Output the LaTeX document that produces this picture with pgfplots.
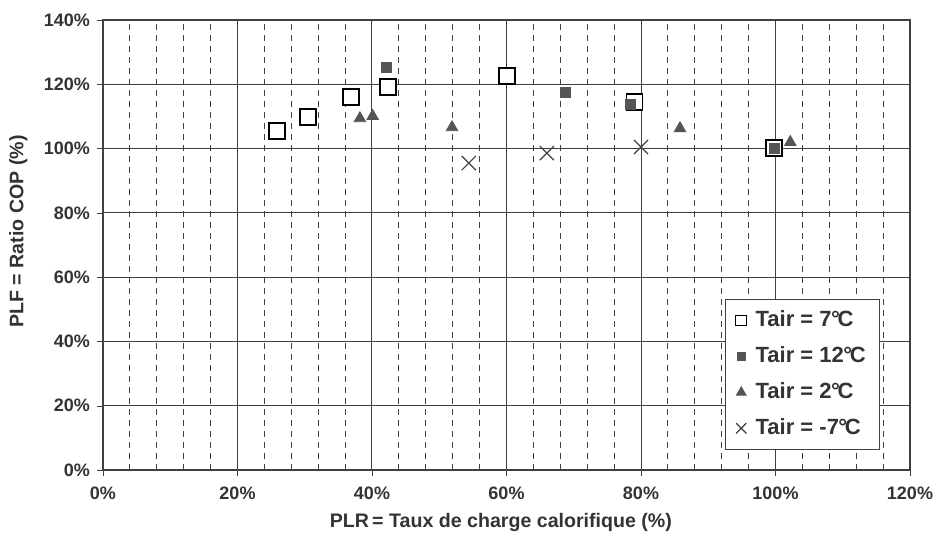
\documentclass[border=0pt]{standalone}
\usepackage{fontspec}
\setmainfont{Liberation Sans}
\usepackage{pgfplots}
\pgfplotsset{compat=1.18}
\definecolor{txt}{HTML}{333333}
\definecolor{mk}{HTML}{555555}
\definecolor{gridc}{HTML}{404040}
\newcommand{\degc}{\kern-0.03em°\kern-0.1em C}
\begin{document}
\begin{tikzpicture}
\useasboundingbox (-51.5pt,-38pt) rectangle (417.5pt,235pt);
\begin{axis}[
  scale only axis, width=403.5pt, height=225pt, at={(0,0)}, anchor=south west,
  xmin=0, xmax=120, ymin=0, ymax=140,
  xtick={0,20,...,120}, ytick={0,20,...,140},
  minor x tick num=4,
  grid=both,
  major grid style={gridc, line width=0.5pt},
  minor grid style={gridc, dashed, line width=0.5pt, dash pattern=on 3pt off 2.5pt},
  axis line style={gridc, line width=0.6pt},
  tick align=outside, major tick length=3pt, minor tick length=0pt,
  tick style={gridc},
  xtick pos=bottom, ytick pos=left,
  /pgf/number format/assume math mode=true,
  xticklabel={\pgfmathprintnumber{\tick}\%},
  yticklabel={\pgfmathprintnumber{\tick}\%},
  ticklabel style={font=\bfseries\fontsize{9}{10}\selectfont, text=txt},
  xticklabel style={yshift=-2pt},
  xlabel={PLR\,= Taux de charge calorifique (\%)},
  ylabel={PLF = Ratio COP (\%)},
  label style={font=\bfseries\fontsize{9.8}{11}\selectfont, text=txt},
  xlabel style={at={(axis description cs:0.493,-0.1156)}, anchor=center},
  ylabel style={at={(axis description cs:-0.105,0.53)}, anchor=center},
  legend cell align=left,
  legend style={at={(rel axis cs:0.963,0.044)}, anchor=south east, draw=gridc,
    font=\bfseries\fontsize{11}{12}\selectfont, text=txt,
    row sep=4.5pt, inner xsep=5pt, inner ysep=4pt,
    /tikz/every odd column/.append style={column sep=2.5pt}},
]
\addplot[only marks, mark=square*, mark size=4pt, mark options={fill=white, draw=black, line width=0.7pt},
  legend image post style={mark size=2.7pt, mark options={fill=white, draw=black, line width=0.5pt}}]
  coordinates {(25.9,105.5) (30.5,109.8) (36.9,116.1) (42.4,119.2) (60.1,122.6) (79.0,114.5) (99.8,100.2)};
\addlegendentry{Tair = 7\degc}
\addplot[only marks, mark=square*, mark size=2.5pt, mark options={fill=mk, draw=mk},
  legend image post style={mark size=2pt}]
  coordinates {(42.2,125.4) (68.7,117.6) (78.4,113.6) (99.8,100.2)};
\addlegendentry{Tair = 12\degc}
\addplot[only marks, mark=triangle*, mark size=3.3pt, mark options={fill=mk, draw=mk},
  legend image post style={mark size=2.8pt}]
  coordinates {(38.2,109.4) (40.1,110.1) (51.9,106.6) (85.8,106.3) (102.2,102.0)};
\addlegendentry{Tair = 2\degc}
\addplot[only marks, mark=x, mark size=5pt, mark options={draw=black!75, line width=0.6pt},
  legend image post style={mark size=3.6pt}]
  coordinates {(54.4,95.5) (66.0,98.6) (80.0,100.5)};
\addlegendentry{Tair = -7\degc}
\end{axis}
\end{tikzpicture}
\end{document}
